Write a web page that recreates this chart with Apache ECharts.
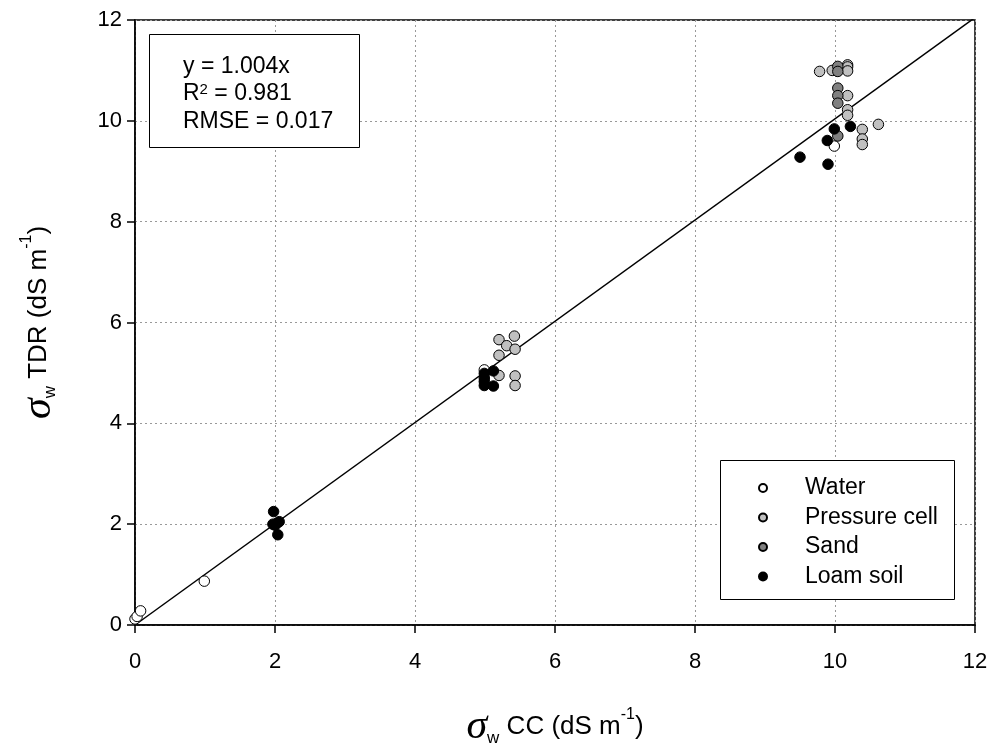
<!DOCTYPE html>
<html>
<head>
<meta charset="utf-8">
<script src="https://cdn.jsdelivr.net/npm/echarts@6/dist/echarts.min.js"></script>
<style>html,body{margin:0;padding:0;background:#fff}#c{width:996px;height:753px}</style>
</head>
<body>
<div id="c"></div>
<script>
const seriesNames = ['Water', 'Pressure cell', 'Sand', 'Loam soil'];
const seriesColors = ['#ffffff', '#c0c0c0', '#808080', '#000000'];

const water = [[0.00,0.12],[0.03,0.17],[0.08,0.28],[0.99,0.87],[4.99,5.06],[9.99,9.50]];
const pressureCell = [[9.78,10.98],[9.96,11.00],[10.18,11.11],[10.18,11.07],[10.18,10.99],
  [10.18,10.50],[10.18,10.22],[10.18,10.11],[10.62,9.93],[10.39,9.83],[10.39,9.64],[10.39,9.53],
  [5.20,5.66],[5.42,5.73],[5.31,5.54],[5.43,5.47],[5.20,5.35],[5.20,4.95],[5.43,4.94],[5.43,4.75]];
const sand = [[10.04,11.08],[10.04,10.98],[10.04,10.65],[10.04,10.50],[10.04,10.35],[10.04,9.70]];
const loamSoil = [[9.99,9.84],[10.22,9.89],[9.89,9.61],[9.50,9.28],[9.90,9.14],
  [4.99,4.99],[4.99,4.90],[4.99,4.83],[4.99,4.75],[5.12,5.04],[5.12,4.74],
  [1.98,2.25],[1.97,2.00],[2.03,2.02],[2.06,2.05],[2.00,1.98],[2.04,1.79]];

const fitSlope = 1.004;
const fitX = [0, 12];
const annotationLines = ['y = 1.004x', 'R{sup|2} = 0.981', 'RMSE = 0.017'];

const seriesData = [water, pressureCell, sand, loamSoil];
const font = 'Liberation Sans, Arial, sans-serif';

const chart = echarts.init(document.getElementById('c'), null, {renderer: 'canvas'});

const scatterSeries = seriesData.map((d, i) => ({
  name: seriesNames[i],
  type: 'scatter',
  data: d,
  symbol: 'circle',
  symbolSize: 10.5,
  itemStyle: {color: seriesColors[i], borderColor: '#000', borderWidth: 1, opacity: 1},
  z: 3
}));

const nameRich = {
  s: {fontFamily: 'Liberation Serif, Times New Roman, serif', fontStyle: 'italic', fontSize: 42, lineHeight: 40, color: '#000'},
  sub: {fontFamily: font, fontSize: 17, verticalAlign: 'bottom', lineHeight: 22, color: '#000'},
  t: {fontFamily: font, fontSize: 26, lineHeight: 32, color: '#000'},
  sup: {fontFamily: font, fontSize: 16, verticalAlign: 'top', lineHeight: 26, color: '#000'}
};

const option = {
  animation: false,
  backgroundColor: '#fff',
  grid: {left: 135, right: 21, top: 20, bottom: 127, show: true, borderColor: '#000', borderWidth: 1.5},
  xAxis: {
    type: 'value', min: 0, max: 12, interval: 2,
    axisLine: {show: true, onZero: false, lineStyle: {color: '#000', width: 1.5}},
    axisTick: {show: true, inside: false, length: 8, lineStyle: {color: '#000', width: 1.5}},
    axisLabel: {color: '#000', fontSize: 22, fontFamily: font, margin: 26},
    splitLine: {show: true, lineStyle: {color: '#999', type: [2, 3], width: 1}},
    name: '{s|σ}{sub|w}{t| CC (dS m}{sup|-1}{t|)}',
    nameLocation: 'middle', nameGap: 82,
    nameTextStyle: {rich: nameRich}
  },
  yAxis: {
    type: 'value', min: 0, max: 12, interval: 2,
    axisLine: {show: true, onZero: false, lineStyle: {color: '#000', width: 1.5}},
    axisTick: {show: true, inside: false, length: 8, lineStyle: {color: '#000', width: 1.5}},
    axisLabel: {color: '#000', fontSize: 22, fontFamily: font, margin: 13},
    splitLine: {show: true, lineStyle: {color: '#999', type: [2, 3], width: 1}},
    name: '{s|σ}{sub|w}{t| TDR (dS m}{sup|-1}{t|)}',
    nameLocation: 'middle', nameGap: 76,
    nameTextStyle: {rich: nameRich}
  },
  legend: {
    data: seriesNames,
    orient: 'vertical',
    left: 758, top: 476,
    icon: 'circle',
    itemWidth: 8, itemHeight: 8,
    itemGap: 5.5,
    padding: 0,
    textStyle: {fontSize: 23, fontFamily: font, color: '#000', lineHeight: 24, padding: [0, 0, 0, 33]},
    z: 10
  },
  graphic: [
    {type: 'rect', left: 149, top: 34, shape: {width: 210, height: 113}, style: {fill: '#fff', stroke: '#000', lineWidth: 1}, z: 5},
    {type: 'rect', left: 720, top: 460, shape: {width: 234, height: 139}, style: {fill: '#fff', stroke: '#000', lineWidth: 1}, z: 5},
    ...annotationLines.map((t, i) => ({
      type: 'text', left: 183, top: 55 + i * 27.5, z: 6,
      style: {
        text: t, fill: '#000', font: '23px ' + font,
        rich: {sup: {fontSize: 15, verticalAlign: 'top', fontFamily: font, lineHeight: 22}}
      }
    }))
  ],
  series: [
    ...scatterSeries,
    {
      name: 'fit', type: 'line',
      data: fitX.map(x => [x, x * fitSlope]),
      symbol: 'none', clip: true,
      lineStyle: {color: '#000', width: 1.5},
      z: 2
    }
  ]
};
chart.setOption(option);
</script>
</body>
</html>
